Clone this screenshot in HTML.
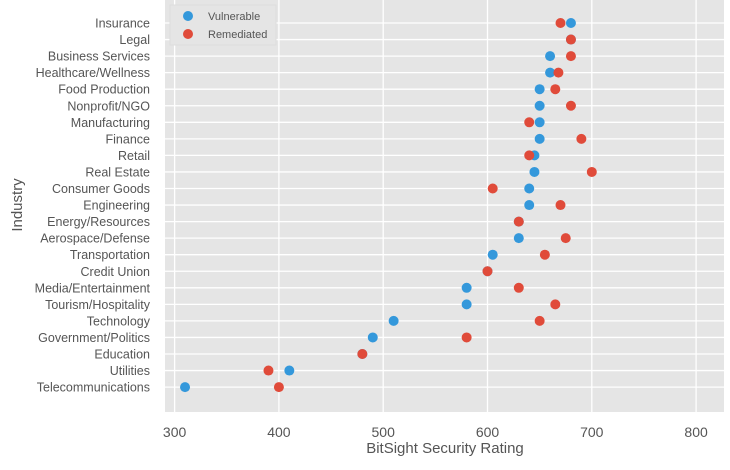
<!DOCTYPE html>
<html><head><meta charset="utf-8"><style>
body{margin:0;background:#fff;}
svg text{font-family:"Liberation Sans",sans-serif;fill:#555;}
</style></head><body>
<svg id="c" width="730" height="465"></svg>
<script>
const industries=["Insurance","Legal","Business Services","Healthcare/Wellness","Food Production","Nonprofit/NGO","Manufacturing","Finance","Retail","Real Estate","Consumer Goods","Engineering","Energy/Resources","Aerospace/Defense","Transportation","Credit Union","Media/Entertainment","Tourism/Hospitality","Technology","Government/Politics","Education","Utilities","Telecommunications"];
const vulnerable=[680,680,660,660,650,650,650,650,645,645,640,640,630,630,605,600,580,580,510,490,480,410,310];
const remediated=[670,680,680,668,665,680,640,690,640,700,605,670,630,675,655,600,630,665,650,580,480,390,400];
const xTicks=[300,400,500,600,700,800];
const svg=document.getElementById('c');const NS='http://www.w3.org/2000/svg';
function mk(t,a,p){const e=document.createElementNS(NS,t);for(const k in a)e.setAttribute(k,a[k]);(p||svg).appendChild(e);return e;}
const X=v=>174.6+(v-300)*1.043;
const Y=i=>23+i*16.55;
const bg=mk('rect',{x:165,y:0,width:559,height:412,fill:'#e5e5e5'});


xTicks.forEach(t=>{
 const l=mk('line',{x1:X(t),x2:X(t),y1:0,y2:412,stroke:'#fff','stroke-width':1.3});
 
 
 const tx=mk('text',{x:X(t),y:437,'text-anchor':'middle','font-size':14});tx.textContent=t;
 
 
});
industries.forEach((n,i)=>{
 const l=mk('line',{x1:165,x2:724,y1:Y(i),y2:Y(i),stroke:'#fff','stroke-width':1.3});
 
 
 const tx=mk('text',{x:150,y:Y(i)+4.5,'text-anchor':'end','font-size':12.5});tx.textContent=n;
 
 
});
industries.forEach((n,i)=>{
 const b=mk('circle',{cx:X(vulnerable[i]),cy:Y(i),r:5,fill:'#3498db'});
 
 
 const r=mk('circle',{cx:X(remediated[i]),cy:Y(i),r:5,fill:'#e04b3a'});
 
 
});
const lg=mk('g',{});


mk('rect',{x:170,y:5,width:106,height:40,fill:'#e5e5e5',stroke:'#ddd'},lg);
mk('circle',{cx:188,cy:16,r:5,fill:'#3498db'},lg);
mk('circle',{cx:188,cy:34,r:5,fill:'#e04b3a'},lg);
const t1=mk('text',{x:208,y:20,'font-size':11},lg);t1.textContent='Vulnerable';
const t2=mk('text',{x:208,y:38,'font-size':11},lg);t2.textContent='Remediated';
const xt=mk('text',{x:445,y:453,'text-anchor':'middle','font-size':15});xt.textContent='BitSight Security Rating';


const yt=mk('text',{x:22,y:205,'text-anchor':'middle','font-size':15,transform:'rotate(-90 22 205)'});yt.textContent='Industry';


</script>
</body></html>
